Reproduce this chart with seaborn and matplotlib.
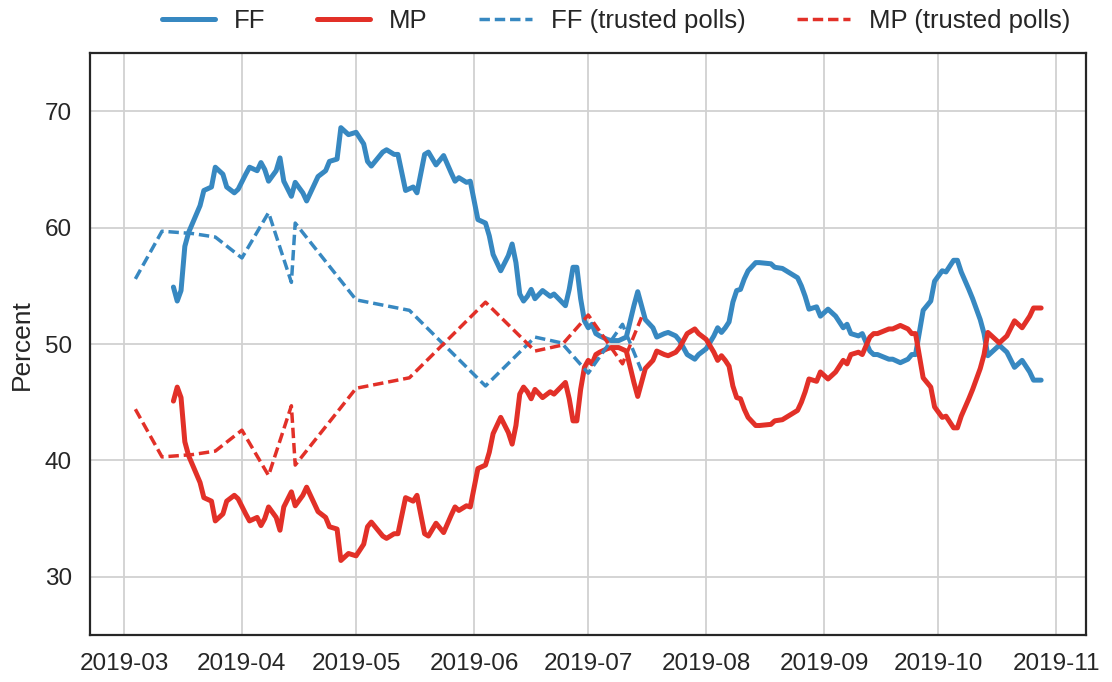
import matplotlib
matplotlib.use("Agg")
import matplotlib.pyplot as plt
import seaborn as sns
import pandas as pd

sns.set_style("whitegrid", {"axes.edgecolor": ".15", "grid.color": ".82"})
plt.rcParams["font.family"] = ["Liberation Sans", "DejaVu Sans"]

BLUE = "#3788c1"
RED = "#e23028"

# rolling average of all polls
dates = [
    "2019-03-14", "2019-03-15", "2019-03-16", "2019-03-17", "2019-03-18", "2019-03-21",
    "2019-03-22", "2019-03-24", "2019-03-25", "2019-03-27", "2019-03-28", "2019-03-30",
    "2019-03-31", "2019-04-02", "2019-04-03", "2019-04-05", "2019-04-06", "2019-04-07",
    "2019-04-08", "2019-04-10", "2019-04-11", "2019-04-12", "2019-04-14", "2019-04-15",
    "2019-04-17", "2019-04-18", "2019-04-19", "2019-04-21", "2019-04-23", "2019-04-24",
    "2019-04-26", "2019-04-27", "2019-04-29", "2019-05-01", "2019-05-03", "2019-05-04",
    "2019-05-05", "2019-05-08", "2019-05-09", "2019-05-11", "2019-05-12", "2019-05-14",
    "2019-05-16", "2019-05-17", "2019-05-19", "2019-05-20", "2019-05-22", "2019-05-24",
    "2019-05-26", "2019-05-27", "2019-05-28", "2019-05-30", "2019-05-31", "2019-06-02",
    "2019-06-04", "2019-06-05", "2019-06-06", "2019-06-07", "2019-06-08", "2019-06-10",
    "2019-06-11", "2019-06-12", "2019-06-13", "2019-06-14", "2019-06-15", "2019-06-16",
    "2019-06-17", "2019-06-19", "2019-06-21", "2019-06-22", "2019-06-25", "2019-06-26",
    "2019-06-27", "2019-06-28", "2019-06-29", "2019-06-30", "2019-07-01", "2019-07-02",
    "2019-07-03", "2019-07-04", "2019-07-06", "2019-07-07", "2019-07-09", "2019-07-11",
    "2019-07-13", "2019-07-14", "2019-07-15", "2019-07-16", "2019-07-18", "2019-07-19",
    "2019-07-21", "2019-07-22", "2019-07-24", "2019-07-25", "2019-07-27", "2019-07-29",
    "2019-07-30", "2019-08-01", "2019-08-03", "2019-08-04", "2019-08-05", "2019-08-06",
    "2019-08-07", "2019-08-08", "2019-08-09", "2019-08-10", "2019-08-11", "2019-08-12",
    "2019-08-14", "2019-08-15", "2019-08-18", "2019-08-19", "2019-08-21", "2019-08-24",
    "2019-08-25", "2019-08-26", "2019-08-27", "2019-08-28", "2019-08-30", "2019-08-31",
    "2019-09-02", "2019-09-04", "2019-09-06", "2019-09-07", "2019-09-08", "2019-09-10",
    "2019-09-11", "2019-09-13", "2019-09-14", "2019-09-15", "2019-09-18", "2019-09-19",
    "2019-09-21", "2019-09-23", "2019-09-24", "2019-09-25", "2019-09-26", "2019-09-27",
    "2019-09-29", "2019-09-30", "2019-10-02", "2019-10-03", "2019-10-05", "2019-10-06",
    "2019-10-07", "2019-10-09", "2019-10-10", "2019-10-12", "2019-10-13", "2019-10-14",
    "2019-10-17", "2019-10-19", "2019-10-21", "2019-10-23", "2019-10-25", "2019-10-26",
    "2019-10-28",
]
ff = [
    54.9, 53.7, 54.6, 58.4, 59.6, 61.9, 63.2, 63.5, 65.2, 64.6, 63.5, 63.0,
    63.3, 64.6, 65.2, 64.9, 65.6, 65.0, 64.0, 64.9, 66.0, 64.0, 62.7, 63.9,
    63.0, 62.3, 63.0, 64.4, 64.9, 65.7, 65.9, 68.6, 68.0, 68.2, 67.2, 65.7,
    65.3, 66.5, 66.7, 66.3, 66.3, 63.2, 63.5, 63.0, 66.3, 66.5, 65.4, 66.2,
    64.7, 64.0, 64.3, 63.9, 64.0, 60.7, 60.4, 59.3, 57.7, 57.0, 56.3, 57.6,
    58.6, 57.0, 54.3, 53.7, 54.1, 54.7, 53.9, 54.6, 54.1, 54.3, 53.3, 54.7,
    56.6, 56.6, 53.9, 52.0, 51.4, 51.7, 50.9, 50.7, 50.4, 50.3, 50.3, 50.6,
    53.3, 54.5, 53.3, 52.1, 51.4, 50.6, 50.9, 51.0, 50.7, 50.3, 49.1, 48.7,
    49.1, 49.6, 50.7, 51.4, 51.0, 51.4, 51.9, 53.6, 54.6, 54.7, 55.6, 56.3,
    57.0, 57.0, 56.9, 56.6, 56.5, 55.9, 55.7, 55.0, 54.1, 53.0, 53.2, 52.4,
    53.0, 52.4, 51.4, 51.7, 50.9, 50.7, 50.9, 49.4, 49.1, 49.1, 48.7, 48.7,
    48.4, 48.7, 49.1, 49.1, 51.0, 52.9, 53.7, 55.4, 56.3, 56.2, 57.2, 57.2,
    56.2, 54.7, 53.9, 52.1, 50.9, 49.0, 49.9, 49.3, 48.0, 48.6, 47.6, 46.9,
    46.9,
]
mp = [
    45.1, 46.3, 45.4, 41.6, 40.4, 38.1, 36.8, 36.5, 34.8, 35.4, 36.5, 37.0,
    36.7, 35.4, 34.8, 35.1, 34.4, 35.0, 36.0, 35.1, 34.0, 36.0, 37.3, 36.1,
    37.0, 37.7, 37.0, 35.6, 35.1, 34.3, 34.1, 31.4, 32.0, 31.8, 32.8, 34.3,
    34.7, 33.5, 33.3, 33.7, 33.7, 36.8, 36.5, 37.0, 33.7, 33.5, 34.6, 33.8,
    35.3, 36.0, 35.7, 36.1, 36.0, 39.3, 39.6, 40.7, 42.3, 43.0, 43.7, 42.4,
    41.4, 43.0, 45.7, 46.3, 45.9, 45.3, 46.1, 45.4, 45.9, 45.7, 46.7, 45.3,
    43.4, 43.4, 46.1, 48.0, 48.6, 48.3, 49.1, 49.3, 49.6, 49.7, 49.7, 49.4,
    46.7, 45.5, 46.7, 47.9, 48.6, 49.4, 49.1, 49.0, 49.3, 49.7, 50.9, 51.3,
    50.9, 50.4, 49.3, 48.6, 49.0, 48.6, 48.1, 46.4, 45.4, 45.3, 44.4, 43.7,
    43.0, 43.0, 43.1, 43.4, 43.5, 44.1, 44.3, 45.0, 45.9, 47.0, 46.8, 47.6,
    47.0, 47.6, 48.6, 48.3, 49.1, 49.3, 49.1, 50.6, 50.9, 50.9, 51.3, 51.3,
    51.6, 51.3, 50.9, 50.9, 49.0, 47.1, 46.3, 44.6, 43.7, 43.8, 42.8, 42.8,
    43.8, 45.3, 46.1, 47.9, 49.1, 51.0, 50.1, 50.7, 52.0, 51.4, 52.4, 53.1,
    53.1,
]

# trusted polls only
trusted_dates = [
    "2019-03-04", "2019-03-11", "2019-03-19", "2019-03-25", "2019-04-01", "2019-04-08",
    "2019-04-14", "2019-04-15", "2019-05-01", "2019-05-15", "2019-06-04", "2019-06-17",
    "2019-06-24", "2019-07-01", "2019-07-10", "2019-07-15",
]
ff_trusted = [55.6, 59.7, 59.5, 59.2, 57.4, 61.3, 55.3, 60.4, 53.8, 52.9, 46.4, 50.6,
              50.1, 47.5, 51.7, 47.7]
mp_trusted = [44.4, 40.3, 40.5, 40.8, 42.6, 38.7, 44.7, 39.6, 46.2, 47.1, 53.6, 49.4,
              49.9, 52.5, 48.3, 52.3]

df = pd.DataFrame({"date": pd.to_datetime(dates), "FF": ff, "MP": mp})
dft = pd.DataFrame({"date": pd.to_datetime(trusted_dates), "FF": ff_trusted, "MP": mp_trusted})

fig = plt.figure(figsize=(11.12, 6.82), dpi=100)
ax = fig.add_axes([0.081, 0.069, 0.896, 0.853])

sns.lineplot(data=df, x="date", y="FF", ax=ax, color=BLUE, lw=3.6, label="FF")
sns.lineplot(data=df, x="date", y="MP", ax=ax, color=RED, lw=3.6, label="MP")
sns.lineplot(data=dft, x="date", y="FF", ax=ax, color=BLUE, lw=2.5, dashes=False,
             label="FF (trusted polls)")
sns.lineplot(data=dft, x="date", y="MP", ax=ax, color=RED, lw=2.5, dashes=False,
             label="MP (trusted polls)")
for line in ax.lines[2:]:
    line.set_dashes((3.0, 1.4))

ax.set(ylim=(25, 75), yticks=[30, 40, 50, 60, 70])
ax.set_xlabel("")
ax.set_ylabel("Percent", fontsize=19, labelpad=8)
ax.tick_params(labelsize=17.5, length=0, pad=13)
for s in ax.spines.values():
    s.set_linewidth(1.6)
ax.grid(True, lw=1.3)

ax.get_legend().remove()
handles, labels = ax.get_legend_handles_labels()
fig.legend(handles, labels, loc="upper center", bbox_to_anchor=(0.554, 1.02), ncol=4,
           frameon=False, fontsize=18.5, handlelength=2.06, handletextpad=0.74,
           columnspacing=2.0)

plt.savefig("out.png", dpi=100)
